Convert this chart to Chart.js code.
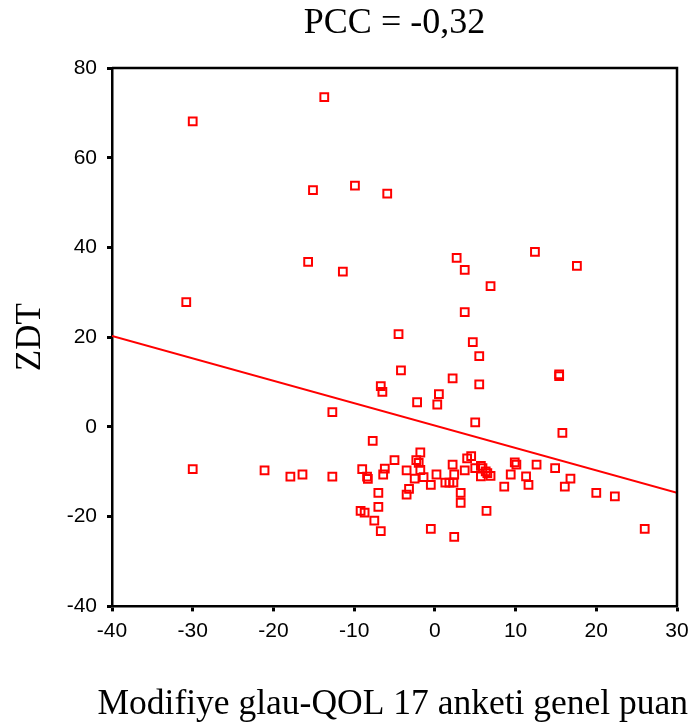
<!DOCTYPE html>
<html lang="tr">
<head>
    <meta charset="UTF-8">
    <title>PCC = -0,32</title>
    <script src="https://cdn.jsdelivr.net/npm/chart.js"></script>
    <style>
        body {
            margin: 0;
            padding: 0;
            background: #fff;
        }
        canvas {
            display: block;
        }
    </style>
</head>
<body>

<canvas id="scatterChart" width="692" height="728"></canvas>

<script>
    // Modifiye glau-QOL 17 anketi genel puan (x) vs ZDT (y)
    const xVals = [
        -30.0, -13.7, -15.1, -9.9, -15.7, -11.4, -30.8, -5.9, 2.7, 12.4,
        3.7, 17.6, 6.9, 3.7, -4.5, 4.7, 5.5, -4.2, 15.4, 15.4,
        2.2, -6.7, -6.5, 5.5, 0.5, -2.2, 0.3, 5.0, 15.8, -7.7,
        -12.7, -1.8, -5.0, -2.3, -2.0, 4.0, 4.5, 9.9, 10.1, 12.6,
        14.9, -6.2, -3.5, -1.8, 2.2, 5.0, 5.7, 5.9, 6.3, 6.5,
        6.9, 5.7, -6.4, -2.5, -1.4, 0.2, 2.4, 3.7, 9.4, 11.3,
        16.8, -0.5, 1.3, 1.8, 2.3, 8.6, 11.6, 16.1, -3.2, -3.5,
        -7.0, 3.2, 3.2, 20.0, 22.3, -7.0, 6.4, -7.5, -6.7, -0.5,
        2.4, 26.0, -30.0, -21.1, -17.9, -16.4, -12.7, -9.0, -8.4, -8.3, -9.2, -8.7
    ];
    const yVals = [
        68.1, 73.5, 52.8, 53.8, 36.8, 34.6, 27.8, 52.0, 37.7, 39.0,
        35.0, 35.9, 31.4, 25.6, 20.7, 18.9, 15.8, 12.6, 11.7, 11.3,
        10.8, 9.1, 7.8, 9.5, 7.3, 5.5, 5.0, 1.0, -1.3, -3.1,
        3.3, -5.7, -7.4, -7.4, -8.0, -7.0, -6.5, -7.9, -8.4, -8.4,
        -9.2, -9.3, -9.7, -9.6, -8.4, -9.2, -8.7, -9.2, -9.9, -10.3,
        -10.9, -11.0, -10.6, -11.5, -11.2, -10.6, -10.6, -9.7, -10.6, -11.0,
        -11.5, -12.9, -12.4, -12.4, -12.4, -13.3, -12.9, -13.3, -13.8, -15.1,
        -14.7, -14.7, -16.9, -14.7, -15.5, -17.8, -18.7, -20.9, -23.2, -22.7,
        -24.5, -22.7, -9.4, -9.7, -11.1, -10.6, -11.1, -9.4, -11.1, -11.6, -18.7, -19.1
    ];

    // regression line end points
    const fitX = [-40, 30];
    const fitY = [20.3, -14.7];

    const xTicks = [-40, -30, -20, -10, 0, 10, 20, 30];
    const yTicks = [-40, -20, 0, 20, 40, 60, 80];

    const points = xVals.map((x, i) => ({ x: x, y: yVals[i] }));
    const fitLine = fitX.map((x, i) => ({ x: x, y: fitY[i] }));

    const serif = '"Liberation Serif", "Times New Roman", serif';
    const sans = '"Liberation Sans", Arial, sans-serif';

    // top and right edges of the plot box
    const framePlugin = {
        id: 'frame',
        afterDatasetsDraw(chart) {
            const { ctx, chartArea } = chart;
            ctx.save();
            ctx.strokeStyle = '#000';
            ctx.lineWidth = 2.5;
            ctx.beginPath();
            ctx.moveTo(chartArea.left, chartArea.top);
            ctx.lineTo(chartArea.right, chartArea.top);
            ctx.lineTo(chartArea.right, chartArea.bottom);
            ctx.stroke();
            ctx.restore();
        }
    };

    const ctx = document.getElementById('scatterChart').getContext('2d');
    new Chart(ctx, {
        type: 'scatter',
        data: {
            datasets: [
                {
                    type: 'line',
                    label: 'Fit',
                    data: fitLine,
                    borderColor: '#ff0000',
                    borderWidth: 2,
                    pointRadius: 0,
                    fill: false,
                    tension: 0
                },
                {
                    label: 'ZDT',
                    data: points,
                    pointStyle: 'rect',
                    pointRadius: 5.5,
                    pointHoverRadius: 5.5,
                    borderColor: '#ff0000',
                    backgroundColor: 'rgba(0,0,0,0)',
                    borderWidth: 2
                }
            ]
        },
        options: {
            responsive: false,
            animation: false,
            layout: {
                padding: { top: 0, right: 4, bottom: 0, left: 0 }
            },
            plugins: {
                legend: { display: false },
                tooltip: { enabled: false },
                title: {
                    display: true,
                    text: 'PCC = -0,32',
                    fullSize: false,
                    color: '#000',
                    font: { family: serif, size: 36, weight: 'normal', lineHeight: 1 },
                    padding: { top: 6, bottom: 26 }
                },
                subtitle: {
                    display: true,
                    position: 'bottom',
                    align: 'end',
                    fullSize: true,
                    text: 'Modifiye glau-QOL 17 anketi genel puan',
                    color: '#000',
                    font: { family: serif, size: 35.5, weight: 'normal', lineHeight: 1.2 },
                    padding: { top: 10, bottom: 2 }
                }
            },
            scales: {
                x: {
                    type: 'linear',
                    position: 'bottom',
                    min: -40,
                    max: 30,
                    afterBuildTicks: (axis) => { axis.ticks = xTicks.map(v => ({ value: v })); },
                    afterFit: (axis) => {
                        axis.height = 67;
                        axis.paddingLeft = 0;
                        axis.paddingRight = 0;
                    },
                    grid: {
                        drawOnChartArea: false,
                        drawTicks: true,
                        tickLength: 5,
                        tickWidth: 3,
                        tickColor: '#000'
                    },
                    border: { display: true, color: '#000', width: 2.5 },
                    ticks: {
                        color: '#000',
                        padding: 9,
                        maxRotation: 0,
                        font: { family: sans, size: 21, lineHeight: 1 }
                    }
                },
                y: {
                    type: 'linear',
                    position: 'left',
                    min: -40,
                    max: 80,
                    afterBuildTicks: (axis) => { axis.ticks = yTicks.map(v => ({ value: v })); },
                    afterFit: (axis) => { axis.width = 112; },
                    grid: {
                        drawOnChartArea: false,
                        drawTicks: true,
                        tickLength: 5,
                        tickWidth: 3,
                        tickColor: '#000'
                    },
                    border: { display: true, color: '#000', width: 2.5 },
                    ticks: {
                        color: '#000',
                        padding: 10,
                        font: { family: sans, size: 21, lineHeight: 1 }
                    },
                    title: {
                        display: true,
                        text: 'ZDT',
                        color: '#000',
                        font: { family: serif, size: 35, weight: 'normal', lineHeight: 1 },
                        padding: { top: 13, bottom: 0 }
                    }
                },
                y2: {
                    type: 'linear',
                    position: 'right',
                    min: -40,
                    max: 80,
                    afterFit: (axis) => { axis.width = 11; },
                    grid: { display: false, drawOnChartArea: false },
                    border: { display: false },
                    ticks: { display: false }
                }
            }
        },
        plugins: [framePlugin]
    });
</script>
</body>
</html>
